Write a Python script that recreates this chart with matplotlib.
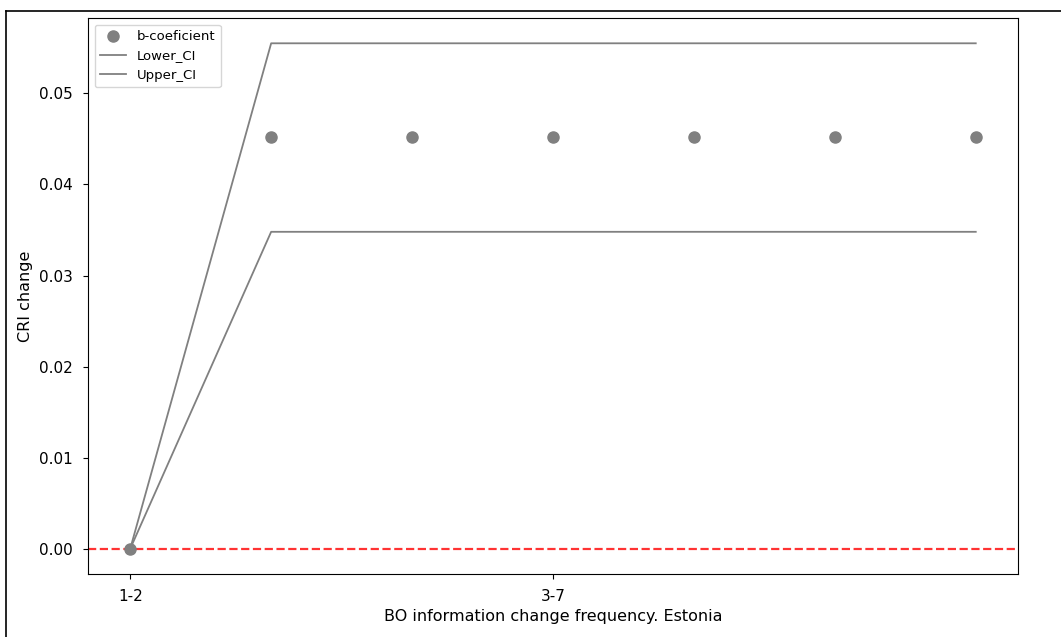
import numpy as np
import matplotlib
matplotlib.use("Agg")
import matplotlib.pyplot as plt
from matplotlib.lines import Line2D

# Coefficients with confidence bounds per frequency group
x_pos = [0, 1, 2, 3, 4, 5, 6]
b_coef = [0.0, 0.0452, 0.0452, 0.0452, 0.0452, 0.0452, 0.0452]
lower_ci = [0.0, 0.0348, 0.0348, 0.0348, 0.0348, 0.0348, 0.0348]
upper_ci = [0.0, 0.0555, 0.0555, 0.0555, 0.0555, 0.0555, 0.0555]
tick_pos = [0, 3]
tick_labels = ['1-2', '3-7']

fig = plt.figure(figsize=(10.61, 6.37), dpi=100)
ax = fig.add_axes([0.0829, 0.0989, 0.8766, 0.8728])

ax.scatter(x_pos, b_coef, color='gray', s=64, label='b-coeficient', zorder=3)
ax.plot(x_pos, lower_ci, color='gray', linewidth=1.3, label='Lower_CI')
ax.plot(x_pos, upper_ci, color='gray', linewidth=1.3, label='Upper_CI')
ax.axhline(0, color='red', linestyle='--', alpha=0.8, linewidth=1.6)

ax.set_xticks(tick_pos)
ax.set_xticklabels(tick_labels)
ax.tick_params(axis='x', labelsize=11, pad=7)
ax.tick_params(axis='y', labelsize=11, pad=7.5)
ax.set_xlabel('BO information change frequency. Estonia', fontsize=11.5)
ax.set_ylabel('CRI change', fontsize=11.5)
ax.legend(loc='upper left', fontsize=9.5)

# frame around the whole figure
fig.add_artist(Line2D([0.0061, 1.0], [0.9827, 0.9827], color='black', linewidth=1.2))
fig.add_artist(Line2D([0.0061, 0.0061], [0.0, 0.9827], color='black', linewidth=1.2))

fig.savefig('out.png', dpi=100)
